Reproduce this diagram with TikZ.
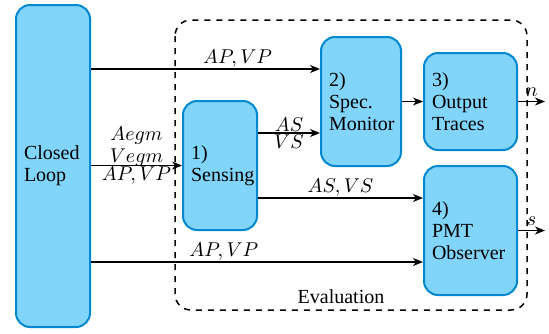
\documentclass[tikz,border=0pt]{standalone}
\usepackage{fontspec}
\setmainfont{Liberation Serif}
\usetikzlibrary{arrows.meta}
\definecolor{boxfill}{HTML}{81D4FA}
\definecolor{boxline}{HTML}{0288D1}
\tikzset{
  blk/.style={draw=boxline, fill=boxfill, line width=1pt, rounded corners=7pt,
    align=left, inner xsep=4pt, font=\fontsize{10}{11}\selectfont},
  sig/.style={-{Stealth[length=5pt,width=4pt,inset=1.5pt]}, line width=0.7pt},
  lbl/.style={font=\fontsize{10}{11}\selectfont, inner sep=0.5pt}
}
\begin{document}
\begin{tikzpicture}[x=0.5pt, y=-0.5pt]
    \useasboundingbox (0,0) rectangle (549,333) ;
    % evaluation frame
    \draw [dashed, line width=0.75pt, rounded corners=8pt] (175,20) rectangle (527,310) ;
    \node [lbl] (evaltxt) at (341,297) {Evaluation} ;

    \node [blk, text width=29pt, minimum height=161pt] (loop) at (53,166) {Closed\\Loop} ;
    \node [blk, text width=29pt, minimum height=64.5pt] (sens) at (220,165.5) {1)\\Sensing} ;
    \node [blk, text width=32pt, minimum height=64.5pt] (spec) at (361,101.5) {2)\\Spec.\\Monitor} ;
    \node [blk, text width=38.5pt, minimum height=48.5pt] (out) at (470.5,101.5) {3)\\Output\\Traces} ;
    \node [blk, text width=38.5pt, minimum height=64.5pt] (pmt) at (470.5,230.5) {4)\\PMT\\Observer} ;

    \coordinate (nend) at (545,101.5) ;
    \coordinate (send) at (545,230.5) ;

    \draw [sig] (loop.east |- 0,69) -- node [lbl, above, pos=0.64] {$AP,VP$} (spec.west |- 0,69) ;
    \draw [sig] (loop.east |- sens.west) -- node [lbl, above, align=center, inner sep=0pt, yshift=-1pt] {$Aegm$\\$Vegm$}
        node [lbl, below, inner sep=0.5pt] {$AP,VP$} (sens.west) ;
    \draw [sig] (sens.east |- 0,133) -- node [lbl, above] {$AS$}
        node [lbl, below] {$VS$} (spec.west |- 0,133) ;
    \draw [sig] (sens.east |- 0,198) -- node [lbl, above] {$AS,VS$} (pmt.west |- 0,198) ;
    \draw [sig] (loop.east |- 0,262) -- node [lbl, above, pos=0.4] {$AP,VP$} (pmt.west |- 0,262) ;
    \draw [sig] (spec.east) -- (out.west) ;
    \draw [sig] (out.east) -- node [lbl, above, inner sep=2pt] {$n$} (nend) ;
    \draw [sig] (pmt.east) -- node [lbl, above, inner sep=2pt] {$s$} (send) ;
\end{tikzpicture}
\end{document}
